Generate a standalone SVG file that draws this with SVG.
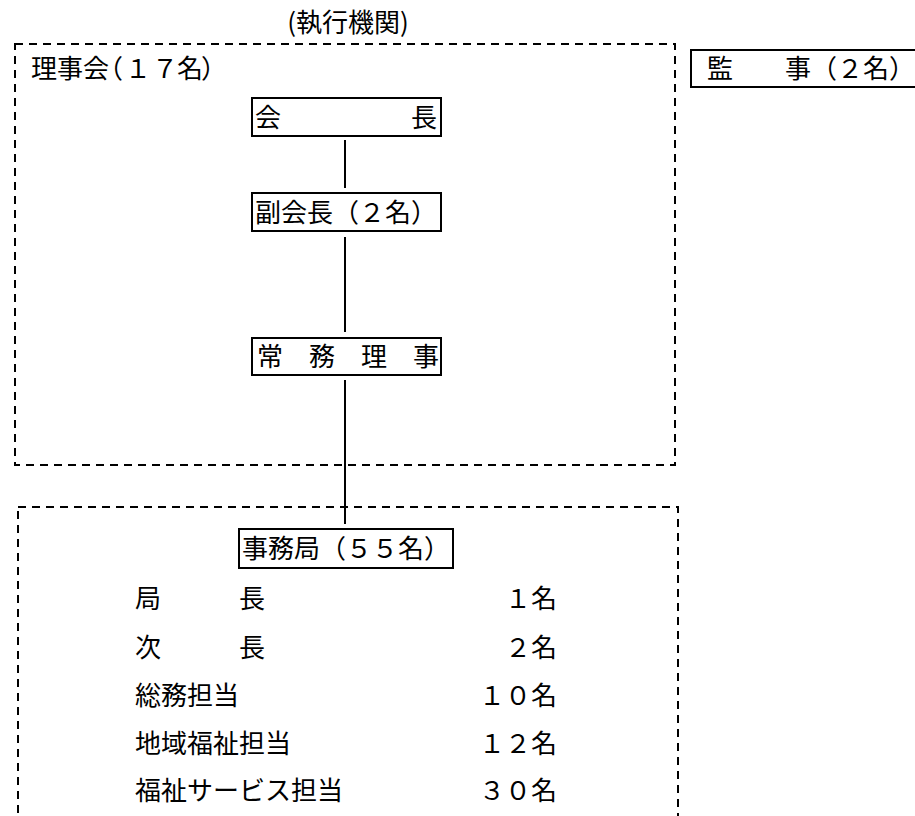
<svg xmlns="http://www.w3.org/2000/svg" width="915" height="816" viewBox="0 0 915 816">
<style>
text{font-family:"Noto Sans CJK JP","Noto Sans CJK SC",sans-serif;font-size:26px;fill:#000}
.box{fill:#fff;stroke:#000;stroke-width:2}
.dash{fill:none;stroke:#000;stroke-width:2;stroke-dasharray:8 6}
.ln{stroke:#000;stroke-width:2;fill:none}
</style>
<rect width="915" height="816" fill="#fff"/>
<g id="label-exec"><text x="348" y="32" text-anchor="middle">(執行機関)</text></g>
<g id="board-group">
<rect class="dash" x="15" y="44" width="660" height="421"/>
<text x="31 57 83 97 125 152 177 201" y="78">理事会（１７名）</text>
</g>
<g id="office-group">
<rect class="dash" x="18" y="507" width="660" height="340"/>
</g>
<g id="connectors">
<line class="ln" x1="345" y1="140" x2="345" y2="188"/>
<line class="ln" x1="345" y1="237" x2="345" y2="332"/>
<line class="ln" x1="345" y1="380" x2="345" y2="524"/>
</g>
<g id="president"><rect class="box" x="252" y="98" width="189" height="38"/><text x="255" y="127">会　　　　　長</text></g>
<g id="vice"><rect class="box" x="252" y="193" width="189" height="38"/><text x="255" y="222">副会長（２名）</text></g>
<g id="executive"><rect class="box" x="252" y="338" width="189" height="37"/><text x="257" y="366">常　務　理　事</text></g>
<g id="auditor"><rect class="box" x="691" y="50" width="240" height="37"/><text x="707" y="78">監　　事（２名）</text></g>
<g id="secretariat"><rect class="box" x="239" y="529" width="214" height="39"/><text x="242" y="558">事務局（５５名）</text></g>
<g id="staff">
<text x="135" y="608">局　　　長</text><text x="557" y="608" text-anchor="end">１名</text>
<text x="135" y="657">次　　　長</text><text x="557" y="657" text-anchor="end">２名</text>
<text x="135" y="705">総務担当</text><text x="557" y="705" text-anchor="end">１０名</text>
<text x="135" y="753">地域福祉担当</text><text x="557" y="753" text-anchor="end">１２名</text>
<text x="135" y="800">福祉サービス担当</text><text x="557" y="800" text-anchor="end">３０名</text>
</g>
</svg>
